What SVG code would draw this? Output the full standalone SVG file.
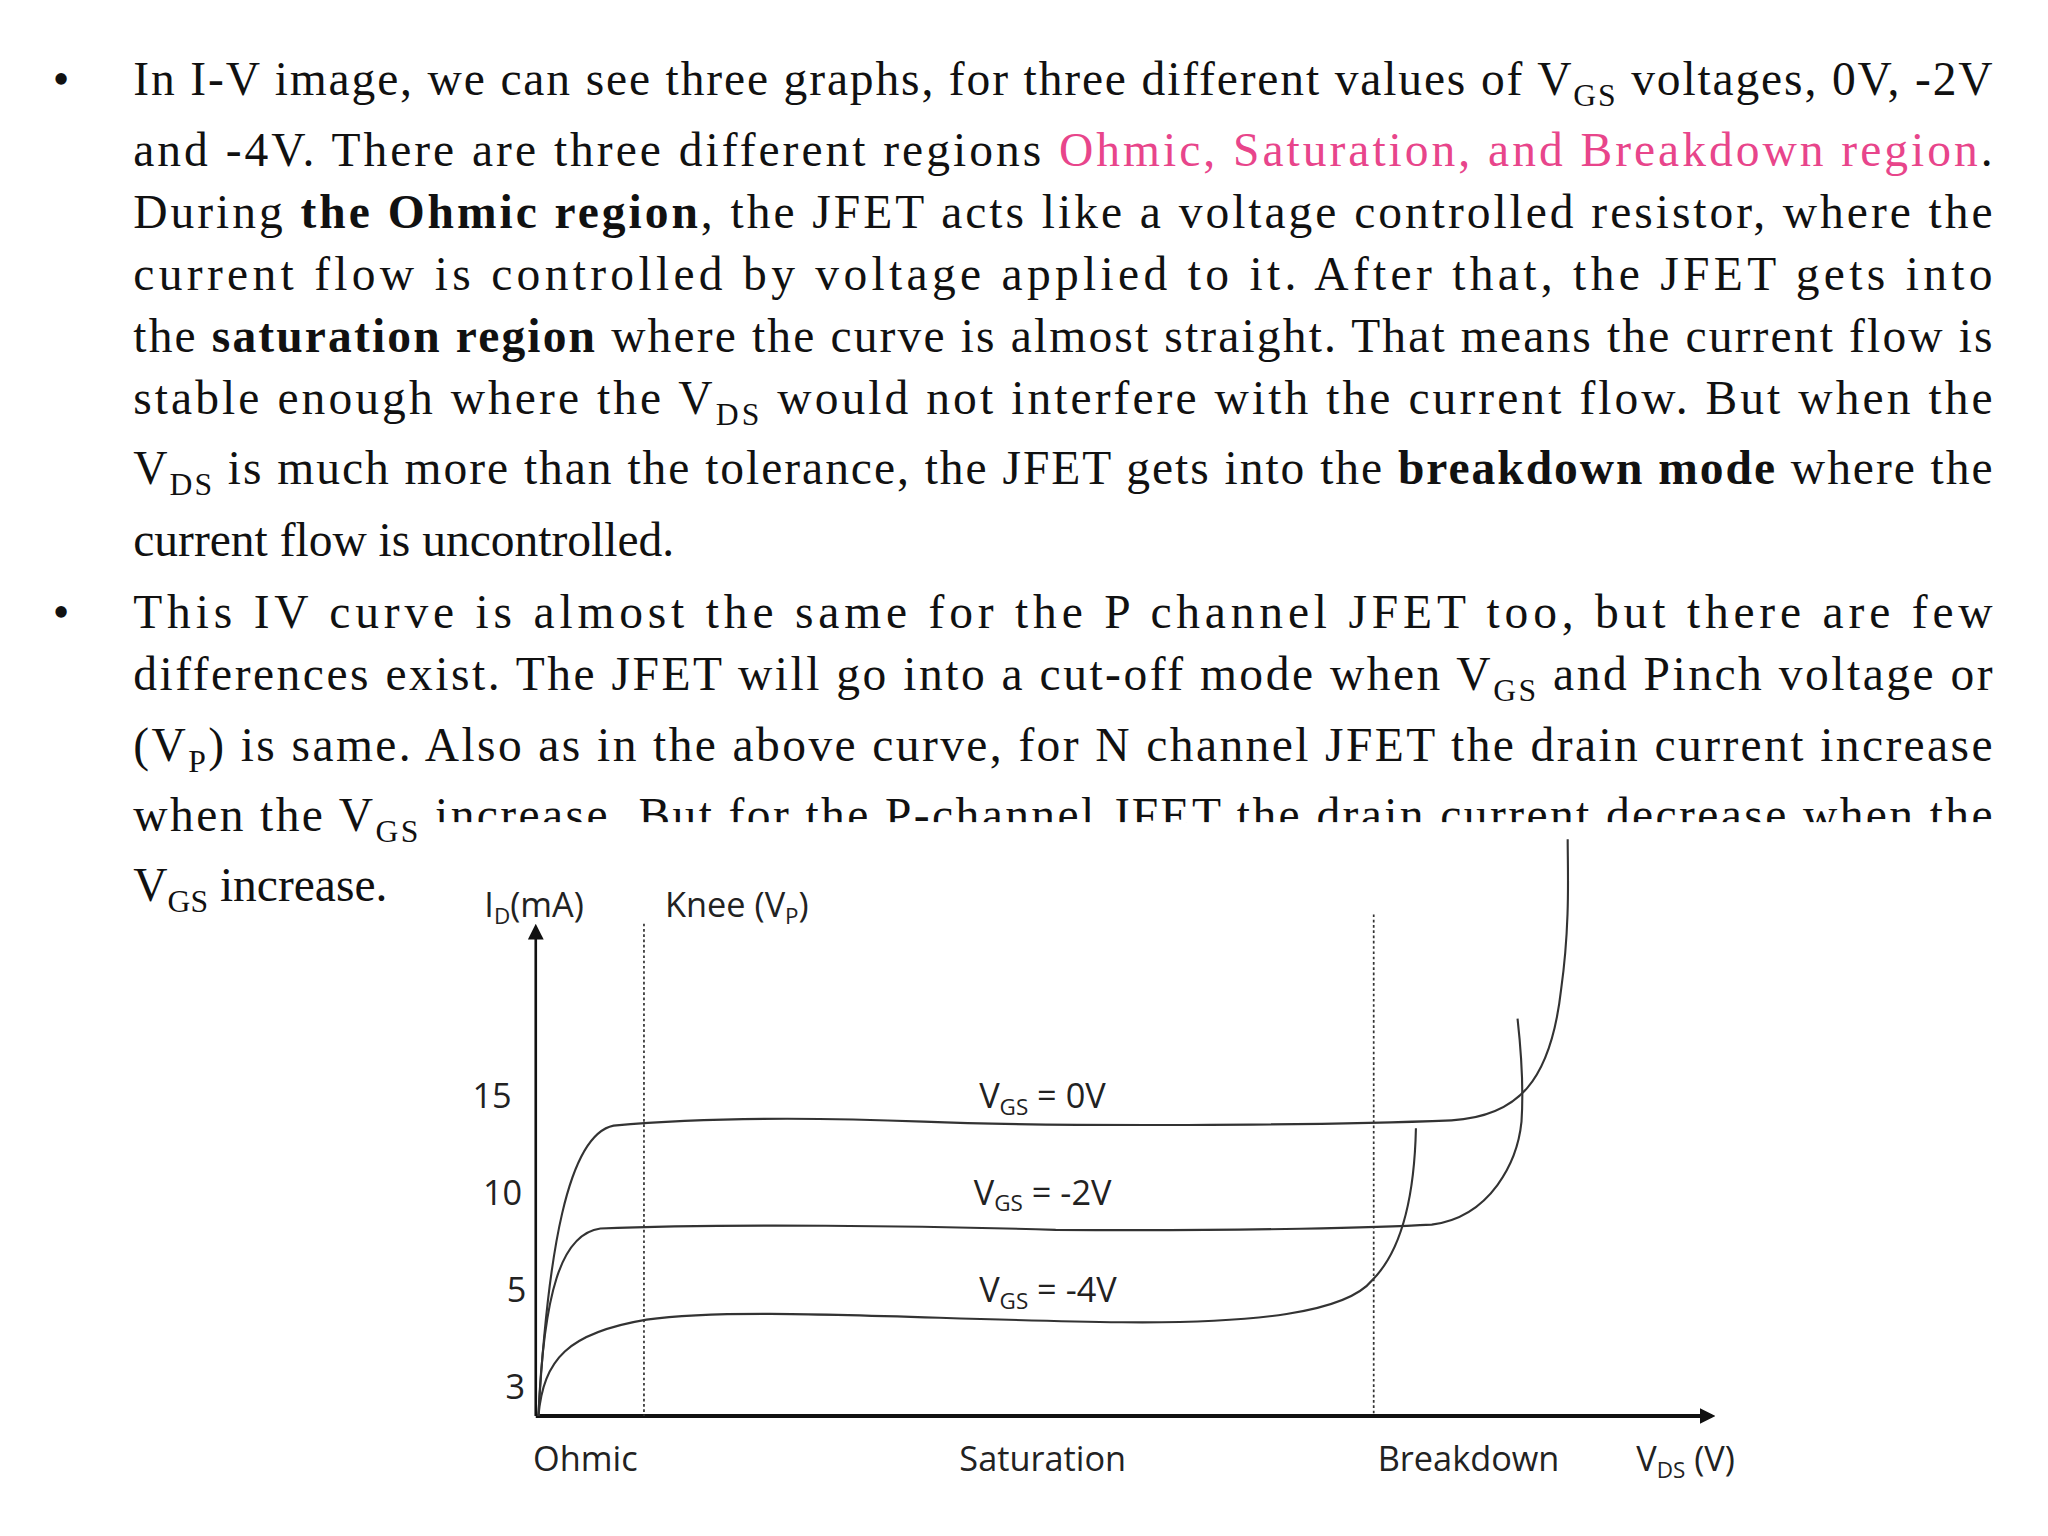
<svg xmlns="http://www.w3.org/2000/svg" width="2048" height="1536" viewBox="0 0 2048 1536">
<style>
.t{font-family:"Liberation Serif","Times New Roman",serif;font-size:36px;fill:#111}
.s{font-size:24px}
.b{font-weight:bold}
.p{fill:#e8458b}
.c{font-family:"Open Sans","DejaVu Sans",sans-serif;font-size:26px;fill:#222}
.cs{font-size:17px}
.curve{fill:none;stroke:#333;stroke-width:1.6}
.dash{stroke:#333;stroke-width:1.3;stroke-dasharray:2 2}
</style>
<defs><marker id="ar" markerWidth="12" markerHeight="12" refX="9" refY="6" orient="auto" markerUnits="userSpaceOnUse"><path d="M0,0 L12,6 L0,12 z" fill="#111"/></marker></defs>
<rect width="2048" height="1536" fill="#fff"/>
<g transform="scale(1.3196)">
<g id="text1">
<text class="t" x="40" y="72">•</text>
<text class="t" x="101" y="72" textLength="1409" lengthAdjust="spacing">In I-V image, we can see three graphs, for three different values of V<tspan class="s" dy="8">GS</tspan><tspan dy="-8"> voltages, 0V, -2V</tspan></text>
<text class="t" x="101" y="126" textLength="1409" lengthAdjust="spacing">and -4V. There are three different regions <tspan class="p">Ohmic, Saturation, and Breakdown region</tspan>.</text>
<text class="t" x="101" y="173" textLength="1409" lengthAdjust="spacing">During <tspan class="b">the Ohmic region</tspan>, the JFET acts like a voltage controlled resistor, where the</text>
<text class="t" x="101" y="220" textLength="1409" lengthAdjust="spacing">current flow is controlled by voltage applied to it. After that, the JFET gets into</text>
<text class="t" x="101" y="267" textLength="1409" lengthAdjust="spacing">the <tspan class="b">saturation region</tspan> where the curve is almost straight. That means the current flow is</text>
<text class="t" x="101" y="314" textLength="1409" lengthAdjust="spacing">stable enough where the V<tspan class="s" dy="8">DS</tspan><tspan dy="-8"> would not interfere with the current flow. But when the</tspan></text>
<text class="t" x="101" y="367" textLength="1409" lengthAdjust="spacing">V<tspan class="s" dy="8">DS</tspan><tspan dy="-8"> is much more than the tolerance, the JFET gets into the </tspan><tspan class="b">breakdown mode</tspan> where the</text>
<text class="t" x="101" y="421">current flow is uncontrolled.</text>
</g>
<g id="text2">
<text class="t" x="40" y="476">•</text>
<text class="t" x="101" y="476" textLength="1409" lengthAdjust="spacing">This IV curve is almost the same for the P channel JFET too, but there are few</text>
<text class="t" x="101" y="523" textLength="1409" lengthAdjust="spacing">differences exist. The JFET will go into a cut-off mode when V<tspan class="s" dy="8">GS</tspan><tspan dy="-8"> and Pinch voltage or</tspan></text>
<text class="t" x="101" y="577" textLength="1409" lengthAdjust="spacing">(V<tspan class="s" dy="8">P</tspan><tspan dy="-8">) is same. Also as in the above curve, for N channel JFET the drain current increase</tspan></text>
<text class="t" x="101" y="630" textLength="1409" lengthAdjust="spacing">when the V<tspan class="s" dy="8">GS</tspan><tspan dy="-8"> increase. But for the P-channel JFET the drain current decrease when the</tspan></text>
<text class="t" x="101" y="683">V<tspan class="s" dy="8">GS</tspan><tspan dy="-8"> increase.</tspan></text>
</g>
<rect x="322" y="623" width="1233" height="540" fill="#fff"/>
<g id="chart">
<line x1="406" y1="1073" x2="406" y2="703" stroke="#111" stroke-width="2" marker-end="url(#ar)"/>
<line x1="406" y1="1073" x2="1297" y2="1073" stroke="#111" stroke-width="3" marker-end="url(#ar)"/>
<line class="dash" x1="488" y1="700" x2="488" y2="1073"/>
<line class="dash" x1="1041" y1="693" x2="1041" y2="1073"/>
<text class="c" x="367" y="695">I<tspan class="cs" dy="5">D</tspan><tspan dy="-5">(mA)</tspan></text>
<text class="c" x="504" y="695">Knee (V<tspan class="cs" dy="5">P</tspan><tspan dy="-5">)</tspan></text>
<text class="c" x="358" y="840">15</text>
<text class="c" x="366" y="913">10</text>
<text class="c" x="384" y="987">5</text>
<text class="c" x="383" y="1060">3</text>
<text class="c" x="404" y="1115">Ohmic</text>
<text class="c" x="727" y="1115">Saturation</text>
<text class="c" x="1044" y="1115">Breakdown</text>
<text class="c" x="1240" y="1115">V<tspan class="cs" dy="5">DS</tspan><tspan dy="-5"> (V)</tspan></text>
<text class="c" x="742" y="840">V<tspan class="cs" dy="5">GS</tspan><tspan dy="-5"> = 0V</tspan></text>
<text class="c" x="738" y="913">V<tspan class="cs" dy="5">GS</tspan><tspan dy="-5"> = -2V</tspan></text>
<text class="c" x="742" y="987">V<tspan class="cs" dy="5">GS</tspan><tspan dy="-5"> = -4V</tspan></text>
<path class="curve" d="M408,1073 C415,950 430,860 465,853 C520,848 600,846 700,850 C800,854 1000,853 1100,849 C1150,846 1175,820 1183,750 C1190,700 1188,660 1188,636"/>
<path class="curve" d="M408,1073 C412,980 425,935 455,931 C550,927 700,929 800,932 C950,933 1050,930 1085,928 C1130,922 1150,880 1153,850 C1155,820 1152,790 1150,772"/>
<path class="curve" d="M408,1073 C412,1030 430,1010 490,1000 C560,990 700,1000 850,1002 C950,1003 1020,995 1040,970 C1065,945 1072,900 1073,855"/>
</g>
</g>
</svg>
